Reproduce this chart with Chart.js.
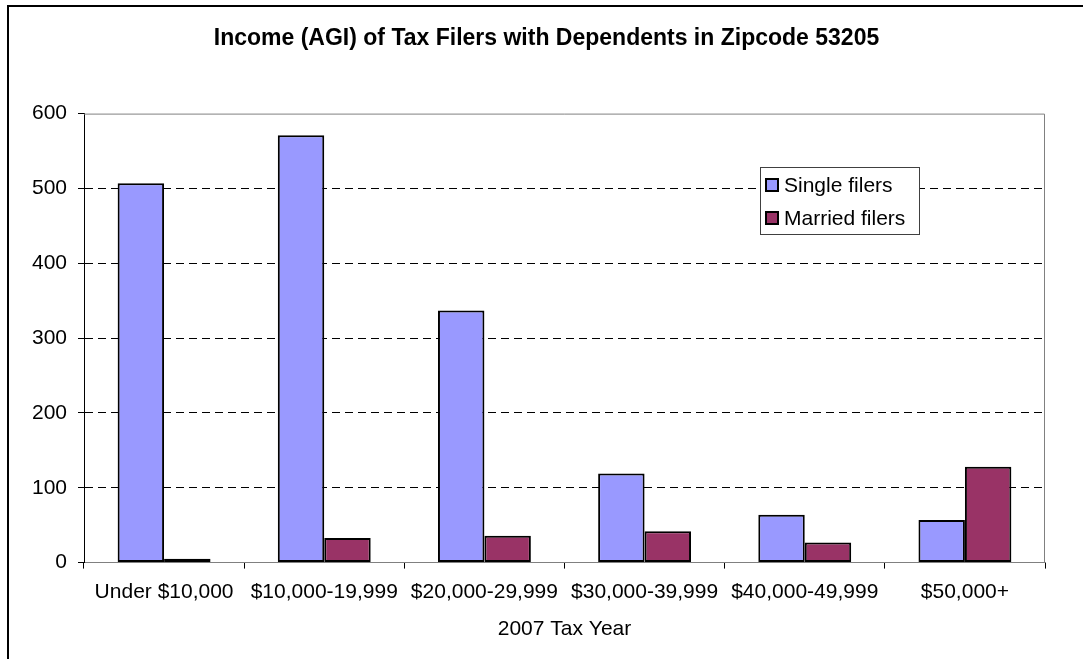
<!DOCTYPE html>
<html>
<head>
<meta charset="utf-8">
<script src="https://cdn.jsdelivr.net/npm/chart.js@4"></script>
<style>
  html, body { margin: 0; padding: 0; background: #fff; }
  #wrap { width: 1083px; height: 659px; }
</style>
</head>
<body>
<div id="wrap"><canvas id="barChart" width="1083" height="659"></canvas></div>
<script>
const categories = ['Under $10,000', '$10,000-19,999', '$20,000-29,999', '$30,000-39,999', '$40,000-49,999', '$50,000+'];
const singleFilers = [507, 571, 337, 119, 64, 57];
const marriedFilers = [5, 33, 36, 42, 27, 128];
const yTicks = [0, 100, 200, 300, 400, 500, 600];

const FONT = 'Arial, "Liberation Sans", sans-serif';

// outer frame, plot frame and the legend box
const framePlugin = {
    id: 'frame',
    beforeDraw(chart) {
        const c = chart.ctx;
        c.save();
        c.fillStyle = '#fff';
        c.fillRect(0, 0, chart.width, chart.height);
        c.strokeStyle = '#000';
        c.lineWidth = 2;
        c.strokeRect(8, 6, chart.width + 20, chart.height + 20);
        c.restore();
    },
    beforeDatasetsDraw(chart) {
        const a = chart.chartArea;
        const c = chart.ctx;
        c.save();
        c.strokeStyle = '#808080';
        c.lineWidth = 1;
        c.beginPath();
        c.moveTo(a.left, a.top + 0.5);
        c.lineTo(a.right - 0.5, a.top + 0.5);
        c.lineTo(a.right - 0.5, a.bottom);
        c.stroke();
        c.restore();
    },
    afterDraw(chart) {
        const c = chart.ctx;
        const bx = 760, by = 167, bw = 159, bh = 67;
        c.save();
        c.fillStyle = '#fff';
        c.fillRect(bx, by, bw, bh);
        c.strokeStyle = '#404040';
        c.lineWidth = 1;
        c.strokeRect(bx + 0.5, by + 0.5, bw, bh);
        c.font = '21px ' + FONT;
        c.textBaseline = 'middle';
        chart.data.datasets.forEach((ds, i) => {
            const y = by + 18 + i * 33;
            c.fillStyle = ds.backgroundColor;
            c.fillRect(766, y - 6, 12, 12);
            c.strokeStyle = '#000';
            c.lineWidth = 2;
            c.strokeRect(766, y - 6, 12, 12);
            c.fillStyle = '#000';
            c.fillText(ds.label, 784, y + 1);
        });
        c.restore();
    }
};

const ctxbar = document.getElementById('barChart');
const barChart = new Chart(ctxbar, {
    type: 'bar',
    data: {
        labels: categories,
        datasets: [{
            label: 'Single filers',
            data: singleFilers,
            backgroundColor: '#9999FF',
            borderColor: '#000',
            borderWidth: 2,
            borderSkipped: false,
            barPercentage: 1.0,
            categoryPercentage: 0.58
        }, {
            label: 'Married filers',
            data: marriedFilers,
            backgroundColor: '#993366',
            borderColor: '#000',
            borderWidth: 2,
            borderSkipped: false,
            barPercentage: 1.0,
            categoryPercentage: 0.58
        }]
    },
    options: {
        responsive: false,
        animation: false,
        layout: {
            padding: { left: 10, right: 0, top: 0, bottom: 0 }
        },
        scales: {
            x: {
                grid: {
                    offset: true,
                    drawOnChartArea: false,
                    tickLength: 6,
                    color: '#000'
                },
                border: { color: '#808080', width: 1 },
                ticks: {
                    color: '#000',
                    padding: 11,
                    maxRotation: 0,
                    autoSkip: false,
                    font: { size: 21, family: FONT }
                },
                title: {
                    display: true,
                    text: '2007 Tax Year',
                    color: '#000',
                    padding: { top: 1, bottom: 17 },
                    font: { size: 21, family: FONT }
                }
            },
            y: {
                min: 0,
                max: 600,
                afterBuildTicks(scale) {
                    scale.ticks = yTicks.map(v => ({ value: v }));
                },
                afterFit(scale) {
                    scale.width = 74;
                },
                grid: {
                    color: ctx => (ctx.tick && (ctx.tick.value === 0 || ctx.tick.value === 600)) ? 'rgba(0,0,0,0)' : '#000',
                    tickColor: '#000',
                    tickBorderDash: [],
                    tickLength: 6,
                    lineWidth: 1
                },
                border: { color: '#000', width: 1, dash: [8, 5] },
                ticks: {
                    color: '#000',
                    padding: 11,
                    font: { size: 21, family: FONT }
                }
            },
            // empty right-hand margin
            y2: {
                position: 'right',
                min: 0,
                max: 600,
                afterFit(scale) {
                    scale.width = 38;
                },
                grid: { display: false },
                border: { display: false },
                ticks: { display: false }
            }
        },
        plugins: {
            legend: { display: false },
            tooltip: { enabled: false },
            title: {
                display: true,
                text: 'Income (AGI) of Tax Filers with Dependents in Zipcode 53205',
                color: '#000',
                padding: { top: 25, bottom: 61 },
                font: { size: 23, weight: 'bold', family: FONT }
            }
        }
    },
    plugins: [framePlugin]
});
</script>
</body>
</html>
